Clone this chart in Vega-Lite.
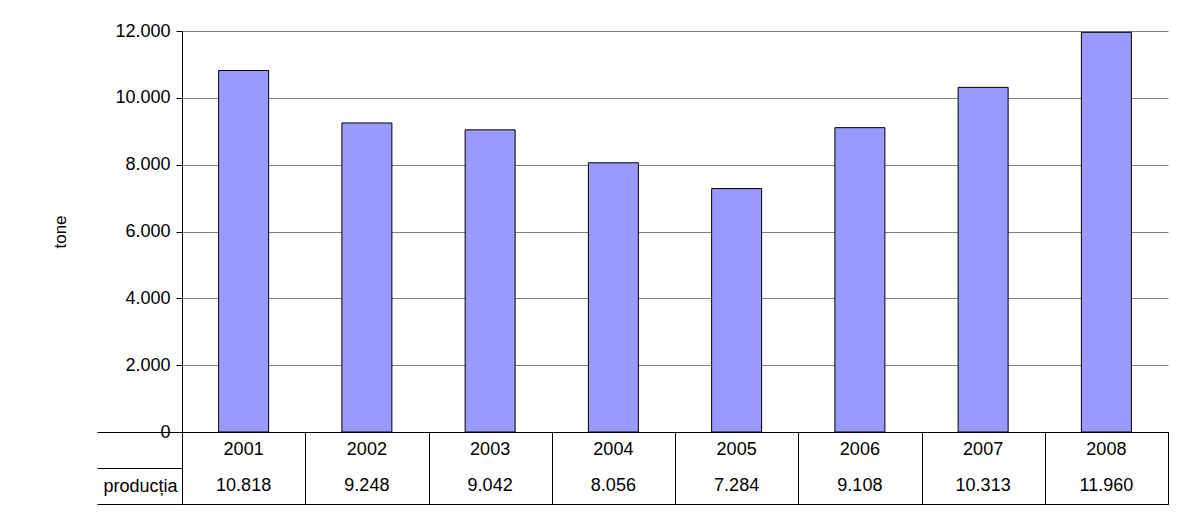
{
  "$schema": "https://vega.github.io/schema/vega-lite/v6.json",
  "autosize": {"type": "pad"},
  "padding": {"left": 51, "top": 22, "right": 13, "bottom": 5},
  "background": "white",
  "bounds": "flush",
  "config": {
    "font": "Liberation Sans",
    "locale": {"number": {"decimal": ",", "thousands": ".", "grouping": [3], "currency": ["", ""]}},
    "axis": {"labelFont": "Liberation Sans", "titleFont": "Liberation Sans", "labelColor": "black", "titleColor": "black"}
  },
  "data": {
    "values": [
      {"an": "2001", "productia": 10818},
      {"an": "2002", "productia": 9248},
      {"an": "2003", "productia": 9042},
      {"an": "2004", "productia": 8056},
      {"an": "2005", "productia": 7284},
      {"an": "2006", "productia": 9108},
      {"an": "2007", "productia": 10313},
      {"an": "2008", "productia": 11960}
    ]
  },
  "spacing": 0,
  "vconcat": [
    {
      "width": 986,
      "height": 401,
      "view": {"stroke": null},
      "mark": {"type": "bar", "color": "#9999FF", "stroke": "black", "strokeWidth": 1, "width": 50},
      "encoding": {
        "x": {"field": "an", "type": "ordinal", "axis": null},
        "y": {
          "field": "productia", "type": "quantitative",
          "scale": {"domain": [0, 12000], "nice": false},
          "axis": {
            "values": [0, 2000, 4000, 6000, 8000, 10000, 12000],
            "format": ",d",
            "labelFontSize": 18, "labelPadding": 6, "tickSize": 6, "tickColor": "black",
            "domainColor": "black", "gridColor": "#808080", "gridWidth": 1,
            "title": "tone", "titleFontSize": 17, "titleFontWeight": "normal", "titlePadding": 45
          }
        }
      }
    },
    {
      "width": 986,
      "height": 72,
      "view": {"stroke": "black", "strokeWidth": 1},
      "encoding": {
        "x": {"field": "an", "type": "ordinal", "axis": {"labels": false, "ticks": false, "domain": false, "title": null, "grid": true, "tickBand": "extent", "gridColor": "black", "gridWidth": 1}}
      },
      "layer": [
        {
          "mark": {"type": "text", "fontSize": 18, "color": "black"},
          "encoding": {
            "y": {
              "datum": "an", "type": "ordinal",
              "scale": {"domain": ["an", "productia"]},
              "axis": {
                "title": null, "domain": false, "tickBand": "extent", "tickSize": 85, "tickColor": "black",
                "labelExpr": "datum.value == 'productia' ? 'producția' : ''",
                "labelAlign": "center", "labelPadding": -43, "labelFontSize": 18
              }
            },
            "text": {"field": "an", "type": "nominal"}
          }
        },
        {
          "mark": {"type": "text", "fontSize": 18, "color": "black"},
          "encoding": {
            "y": {"datum": "productia", "type": "ordinal"},
            "text": {"field": "productia", "type": "quantitative", "format": ",d"}
          }
        }
      ]
    }
  ]
}
